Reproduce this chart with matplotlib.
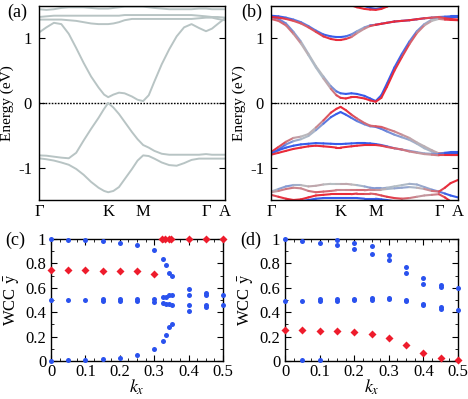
import numpy as np
import matplotlib
matplotlib.use('Agg')
import matplotlib.pyplot as plt
from matplotlib.collections import LineCollection
from matplotlib.colors import LinearSegmentedColormap, Normalize
from matplotlib.ticker import MultipleLocator, FuncFormatter

plt.rcParams['font.family'] = ['Liberation Serif', 'DejaVu Serif']
plt.rcParams['mathtext.fontset'] = 'stix'

# ---- band structure data (path coordinate, energies in eV) ----
kpath = [0, 0.04, 0.08, 0.12, 0.16, 0.20, 0.24, 0.28, 0.32, 0.35, 0.372, 0.40, 0.43, 0.46,
         0.50, 0.53, 0.56, 0.59, 0.62, 0.66, 0.70, 0.74, 0.78, 0.82, 0.86, 0.898, 0.93, 0.96, 1.0]
kticks = [0, 0.372, 0.56, 0.898, 1.0]
klabels = ['Γ', 'K', 'M', 'Γ', 'A']

# (a) without SOC
a_c1 = [1.09, 1.17, 1.24, 1.22, 1.07, 0.85, 0.62, 0.41, 0.24, 0.13, 0.09, 0.13, 0.16, 0.15,
        0.10, 0.05, 0.03, 0.12, 0.33, 0.60, 0.83, 1.03, 1.17, 1.22, 1.16, 1.11, 1.15, 1.22, 1.31]
a_c2 = [1.29, 1.29, 1.29, 1.29, 1.28, 1.27, 1.25, 1.23, 1.22, 1.22, 1.22, 1.23, 1.25, 1.28,
        1.30, 1.30, 1.30, 1.30, 1.30, 1.30, 1.30, 1.30, 1.30, 1.30, 1.31, 1.32, 1.32, 1.30, 1.28]
a_c3 = [1.33, 1.34, 1.35, 1.35, 1.35, 1.35, 1.35, 1.35, 1.35, 1.35, 1.35, 1.35, 1.35, 1.36,
        1.36, 1.36, 1.36, 1.36, 1.36, 1.36, 1.36, 1.36, 1.36, 1.36, 1.35, 1.34, 1.33, 1.33, 1.32]
a_c4 = [1.45, 1.44, 1.45, 1.47, 1.48, 1.48, 1.48, 1.47, 1.46, 1.46, 1.46, 1.47, 1.48, 1.49,
        1.49, 1.49, 1.49, 1.48, 1.47, 1.46, 1.45, 1.45, 1.45, 1.45, 1.46, 1.46, 1.45, 1.45, 1.45]
a_v1 = [-0.81, -0.815, -0.83, -0.845, -0.855, -0.77, -0.58, -0.40, -0.23, -0.09, 0.0, -0.07, -0.17, -0.29,
        -0.45, -0.56, -0.65, -0.69, -0.74, -0.785, -0.80, -0.80, -0.80, -0.80, -0.80, -0.79, -0.80, -0.80, -0.80]
a_v2 = [-0.855, -0.87, -0.89, -0.92, -0.955, -1.02, -1.11, -1.22, -1.31, -1.36, -1.38, -1.36, -1.30, -1.18,
        -1.02, -0.89, -0.81, -0.82, -0.86, -0.92, -0.96, -0.97, -0.93, -0.88, -0.86, -0.86, -0.86, -0.86, -0.86]
a_bands = [a_c1, a_c2, a_c3, a_c4, a_v1, a_v2]

# (b) with SOC: (energies, spin weight  +1 red / -1 blue)
b_c1_red = [1.30, 1.27, 1.20, 1.07, 0.92, 0.74, 0.55, 0.38, 0.22, 0.12, 0.08, 0.07, 0.09, 0.09,
            0.07, 0.04, 0.02, 0.08, 0.25, 0.50, 0.71, 0.91, 1.08, 1.20, 1.27, 1.30, 1.29, 1.285, 1.28]
b_c1_blue = [1.33, 1.30, 1.23, 1.10, 0.95, 0.76, 0.57, 0.41, 0.26, 0.18, 0.15, 0.14, 0.15, 0.14,
             0.11, 0.07, 0.03, 0.12, 0.30, 0.55, 0.76, 0.95, 1.11, 1.22, 1.29, 1.32, 1.33, 1.33, 1.33]
b_c1_spin = [0.6, 0.6, 0.5, 0.4, 0.2, 0.0, -0.1, 0.0, 0.3, 0.6, 0.8, 0.9, 0.9, 0.9,
             0.9, 0.9, 0.9, 0.9, 0.9, 0.9, 0.8, 0.7, 0.5, 0.3, 0.1, 0.0, 0.8, 0.9, 0.9]
b_c2_red = [1.33, 1.32, 1.30, 1.27, 1.23, 1.17, 1.10, 1.03, 0.99, 0.975, 0.975, 0.99, 1.02, 1.08,
            1.15, 1.19, 1.21, 1.225, 1.24, 1.26, 1.27, 1.28, 1.295, 1.31, 1.32, 1.33, 1.31, 1.30, 1.29]
b_c2_blue = [1.35, 1.34, 1.32, 1.29, 1.25, 1.19, 1.12, 1.06, 1.03, 1.02, 1.02, 1.03, 1.06, 1.11,
             1.17, 1.20, 1.21, 1.225, 1.24, 1.26, 1.27, 1.28, 1.295, 1.31, 1.32, 1.33, 1.335, 1.34, 1.34]
b_c2_spin = [0.9, 0.9, 0.8, 0.7, 0.6, 0.6, 0.7, 0.8, 0.9, 0.9, 0.9, 0.9, 0.6, 0.3,
             0.2, 0.5, 0.9, 0.9, 0.9, 0.9, 0.9, 0.9, 0.9, 0.8, 0.7, 0.6, 0.8, 0.9, 0.9]
b_c3_red = [1.7, 1.7, 1.7, 1.7, 1.7, 1.7, 1.7, 1.7, 1.7, 1.65, 1.61, 1.56, 1.51, 1.48,
            1.455, 1.445, 1.44, 1.455, 1.49, 1.54, 1.6, 1.7, 1.7, 1.7, 1.7, 1.7, 1.7, 1.7, 1.7]
b_c3_blue = [1.7, 1.7, 1.7, 1.7, 1.7, 1.7, 1.7, 1.7, 1.7, 1.7, 1.7, 1.65, 1.58, 1.53,
             1.50, 1.47, 1.455, 1.47, 1.51, 1.57, 1.65, 1.7, 1.7, 1.7, 1.7, 1.7, 1.7, 1.7, 1.7]
b_c3_spin = [0.9] * 29
b_v1_red = [-0.76, -0.68, -0.60, -0.54, -0.52, -0.48, -0.38, -0.27, -0.15, -0.09, -0.06, -0.11, -0.18, -0.24,
            -0.31, -0.35, -0.36, -0.37, -0.40, -0.44, -0.49, -0.54, -0.61, -0.67, -0.73, -0.78, -0.79, -0.80, -0.80]
b_v1_blue = [-0.79, -0.72, -0.64, -0.59, -0.56, -0.51, -0.42, -0.32, -0.22, -0.17, -0.14, -0.18, -0.23, -0.28,
             -0.33, -0.36, -0.37, -0.40, -0.44, -0.49, -0.53, -0.57, -0.63, -0.70, -0.75, -0.78, -0.77, -0.76, -0.76]
b_v1_spin = [0.9, 0.8, 0.6, 0.3, 0.1, 0.0, 0.2, 0.5, 0.8, 0.9, 0.9, 0.9, 0.8, 0.6,
             0.5, 0.5, 0.6, 0.7, 0.5, 0.4, 0.3, 0.2, 0.1, 0.1, 0.1, 0.2, 0.9, 0.9, 0.9]
b_v2_red = [-0.80, -0.77, -0.74, -0.71, -0.69, -0.67, -0.66, -0.67, -0.68, -0.69, -0.69, -0.68, -0.67, -0.66,
            -0.65, -0.65, -0.65, -0.66, -0.68, -0.70, -0.72, -0.75, -0.77, -0.79, -0.80, -0.81, -0.81, -0.81, -0.81]
b_v2_blue = [-0.78, -0.73, -0.69, -0.66, -0.64, -0.63, -0.62, -0.625, -0.63, -0.635, -0.635, -0.63, -0.625, -0.62,
             -0.62, -0.625, -0.635, -0.65, -0.67, -0.70, -0.72, -0.74, -0.76, -0.78, -0.785, -0.79, -0.78, -0.77, -0.77]
b_v2_spin = [0.8, 0.9, 0.9, 0.9, 0.9, 0.9, 0.9, 0.9, 0.9, 0.9, 0.9, 0.9, 0.9, 0.9,
             0.9, 0.9, 0.9, 0.8, 0.7, 0.6, 0.5, 0.4, 0.3, 0.2, 0.3, 0.5, 0.9, 0.9, 0.9]
b_low1 = [-1.37, -1.33, -1.29, -1.27, -1.27, -1.29, -1.28, -1.26, -1.25, -1.25, -1.25, -1.25, -1.26, -1.27,
          -1.29, -1.31, -1.32, -1.32, -1.31, -1.29, -1.27, -1.25, -1.26, -1.30, -1.34, -1.37, -1.40, -1.43, -1.46]
b_low1_spin = [0.0, -0.2, -0.4, -0.3, 0.0, 0.1, 0.2, 0.1, 0.0, 0.0, 0.1, 0.2, 0.1, 0.0,
               -0.2, -0.3, -0.4, -0.3, -0.1, 0.0, 0.0, -0.1, -0.2, -0.2, -0.3, -0.5, -0.8, -0.9, -0.9]
b_low2 = [-1.38, -1.36, -1.33, -1.31, -1.32, -1.36, -1.38, -1.37, -1.36, -1.35, -1.35, -1.35, -1.35, -1.35,
          -1.35, -1.34, -1.34, -1.34, -1.33, -1.32, -1.31, -1.30, -1.31, -1.33, -1.36, -1.37, -1.31, -1.24, -1.19]
b_low2_spin = [0.1, 0.3, 0.5, 0.4, 0.3, 0.4, 0.6, 0.6, 0.5, 0.4, 0.3, 0.3, 0.4, 0.5,
               0.5, 0.4, 0.3, 0.2, 0.0, -0.2, -0.3, -0.2, 0.0, 0.2, 0.4, 0.6, 0.9, 0.9, 0.9]
b_low3 = [-1.42, -1.45, -1.48, -1.50, -1.49, -1.46, -1.43, -1.42, -1.41, -1.41, -1.41, -1.41, -1.41, -1.40,
          -1.40, -1.40, -1.41, -1.43, -1.45, -1.47, -1.48, -1.47, -1.45, -1.43, -1.42, -1.41, -1.46, -1.52, -1.56]
b_low3_spin = [0.6, 0.8, 0.9, 0.9, 0.9, 0.9, 0.9, 0.9, 0.9, 0.9, 0.9, 0.9, 0.9, 0.8,
               0.7, 0.6, 0.6, 0.7, 0.8, 0.8, 0.7, 0.5, 0.3, 0.2, 0.3, 0.5, 0.9, 0.9, 0.9]
b_low4 = [-1.55, -1.55, -1.55, -1.54, -1.52, -1.50, -1.48, -1.47, -1.47, -1.47, -1.47, -1.47, -1.47, -1.47,
          -1.48, -1.48, -1.48, -1.49, -1.50, -1.52, -1.55, -1.57, -1.58, -1.58, -1.58, -1.58, -1.58, -1.58, -1.58]
b_low4_spin = [-0.9] * 29

# ---- Wannier charge centres ----
c_blue_kx = [0, 0, 0, 0.05, 0.05, 0.05, 0.1, 0.1, 0.1, 0.15, 0.15, 0.15, 0.15,
             0.2, 0.2, 0.2, 0.2, 0.25, 0.25, 0.25, 0.25, 0.3, 0.3, 0.3, 0.3,
             0.325, 0.325, 0.325, 0.325, 0.334, 0.334, 0.334, 0.334,
             0.344, 0.344, 0.344, 0.344, 0.352, 0.352, 0.352, 0.352,
             0.4, 0.4, 0.4, 0.4, 0.45, 0.45, 0.45, 0.45, 0.5, 0.5]
c_blue_w = [1.0, 0.5, 0.0, 0.99, 0.5, 0.005, 0.99, 0.5, 0.01, 0.985, 0.505, 0.495, 0.015,
            0.97, 0.505, 0.495, 0.028, 0.95, 0.51, 0.49, 0.047, 0.909, 0.51, 0.485, 0.095,
            0.835, 0.523, 0.474, 0.165, 0.785, 0.525, 0.47, 0.215,
            0.725, 0.537, 0.467, 0.275, 0.694, 0.54, 0.462, 0.305,
            0.592, 0.543, 0.455, 0.407, 0.56, 0.545, 0.455, 0.44, 0.543, 0.455]
c_red_kx = [0, 0.05, 0.1, 0.15, 0.2, 0.25, 0.3, 0.323, 0.332, 0.342, 0.35, 0.4, 0.45, 0.5]
c_red_w = [0.75, 0.745, 0.745, 0.74, 0.74, 0.735, 0.71, 1, 1, 1, 1, 1, 1, 1]

d_blue_kx = [0, 0, 0.05, 0.05, 0.05, 0.1, 0.1, 0.1, 0.1, 0.15, 0.15, 0.15, 0.15,
             0.2, 0.2, 0.2, 0.2, 0.25, 0.25, 0.25, 0.25, 0.3, 0.3, 0.3, 0.3,
             0.35, 0.35, 0.35, 0.35, 0.4, 0.4, 0.4, 0.4, 0.45, 0.45, 0.45, 0.45, 0.5, 0.5]
d_blue_w = [0.998, 0.49, 0.985, 0.495, 0.005, 0.966, 0.505, 0.495, 0.01, 0.99, 0.95, 0.505, 0.495,
            0.97, 0.92, 0.51, 0.5, 0.94, 0.88, 0.515, 0.5, 0.87, 0.83, 0.52, 0.505,
            0.77, 0.72, 0.5, 0.495, 0.68, 0.63, 0.47, 0.455, 0.62, 0.605, 0.44, 0.425, 0.6, 0.42]
d_red_kx = [0, 0.05, 0.1, 0.15, 0.2, 0.25, 0.3, 0.35, 0.4, 0.45, 0.5]
d_red_w = [0.254, 0.254, 0.25, 0.248, 0.24, 0.22, 0.185, 0.13, 0.065, 0.025, 0.005]

RED = '#ee1c2c'
BLUE = '#2a52ee'
GRAY = '#b6c0c4'
spin_cmap = LinearSegmentedColormap.from_list('spin', [BLUE, GRAY, RED])

W, H = 468, 399
fig = plt.figure(figsize=(W / 100, H / 100), dpi=100)


def px_axes(l, t, r, b):
    return fig.add_axes([l / W, 1 - b / H, (r - l) / W, (b - t) / H])


def band_frame(ax):
    ax.set_xlim(0, 1)
    ax.set_ylim(-1.5, 1.5)
    ax.set_xticks(kticks)
    ax.set_xticklabels(klabels)
    ax.set_yticks([-1, 0, 1])
    ax.set_yticklabels(['-1', '0', '1'])
    ax.tick_params(axis='x', length=0, labelsize=12, pad=3)
    ax.tick_params(axis='y', direction='in', length=4, right=True, labelsize=12, pad=5)
    ax.set_ylabel('Energy (eV)', fontsize=11, labelpad=3)
    ax.axhline(0, color='k', lw=1.0, ls=(0, (1.2, 1.0)), zorder=1)
    for s in ax.spines.values():
        s.set_linewidth(1.0)


def spin_line(ax, e, spin, lw=1.5):
    pts = np.column_stack([kpath, e])
    segs = np.stack([pts[:-1], pts[1:]], axis=1)
    sp = np.asarray(spin)
    c = (sp[:-1] + sp[1:]) / 2
    lc = LineCollection(segs, cmap=spin_cmap, norm=Normalize(-1, 1), linewidths=lw,
                        capstyle='round', joinstyle='round', zorder=2)
    lc.set_array(c)
    ax.add_collection(lc)


# (a)
ax_a = px_axes(39, 6, 225, 200)
for e in a_bands:
    ax_a.plot(kpath, e, color='#b8c4c4', lw=1.4, zorder=2)
band_frame(ax_a)

# (b)
ax_b = px_axes(271, 6, 458, 200)
sp_n = lambda s: [-v for v in s]
spin_line(ax_b, b_low4, b_low4_spin)
spin_line(ax_b, b_low3, b_low3_spin)
spin_line(ax_b, b_low1, b_low1_spin)
spin_line(ax_b, b_low2, b_low2_spin)
for red_e, blue_e, s in [(b_c1_red, b_c1_blue, b_c1_spin), (b_c2_red, b_c2_blue, b_c2_spin),
                         (b_c3_red, b_c3_blue, b_c3_spin), (b_v1_red, b_v1_blue, b_v1_spin),
                         (b_v2_red, b_v2_blue, b_v2_spin)]:
    spin_line(ax_b, blue_e, sp_n(s))
    spin_line(ax_b, red_e, s)
band_frame(ax_b)

fmt = FuncFormatter(lambda v, p: f'{v:g}')


def wcc_frame(ax):
    ax.set_xlim(0, 0.5)
    ax.set_ylim(0, 1)
    ax.xaxis.set_major_locator(MultipleLocator(0.1))
    ax.xaxis.set_minor_locator(MultipleLocator(0.025))
    ax.yaxis.set_major_locator(MultipleLocator(0.2))
    ax.yaxis.set_minor_locator(MultipleLocator(0.1))
    ax.xaxis.set_major_formatter(fmt)
    ax.yaxis.set_major_formatter(fmt)
    ax.tick_params(which='both', direction='in', top=True, right=True, labelsize=12)
    ax.tick_params(which='major', length=4)
    ax.tick_params(which='minor', length=2)
    ax.tick_params(axis='x', pad=2)
    ax.set_xlabel('$k_x$', fontsize=13)
    ax.xaxis.set_label_coords(0.5, -0.135)
    ax.set_ylabel(r'WCC $\mathrm{\bar{y}}$', fontsize=12, labelpad=2)
    for s in ax.spines.values():
        s.set_linewidth(1.0)


# (c)
ax_c = px_axes(51, 239, 223, 361)
ax_c.plot(c_blue_kx, c_blue_w, 'o', color=BLUE, ms=3.6, mec='none', clip_on=False, zorder=3)
ax_c.plot(c_red_kx, c_red_w, 'D', color=RED, ms=3.8, mec='none', clip_on=False, zorder=3)
wcc_frame(ax_c)

# (d)
ax_d = px_axes(285, 239, 458, 361)
ax_d.plot(d_blue_kx, d_blue_w, 'o', color=BLUE, ms=3.6, mec='none', clip_on=False, zorder=3)
ax_d.plot(d_red_kx, d_red_w, 'D', color=RED, ms=3.8, mec='none', clip_on=False, zorder=3)
wcc_frame(ax_d)

for lab, x, y in [('(a)', 7, 12), ('(b)', 241, 12), ('(c)', 5, 240), ('(d)', 240, 240)]:
    fig.text(x / W, 1 - y / H, lab, fontsize=13, va='center', ha='left')

fig.savefig('out.png', dpi=100)
